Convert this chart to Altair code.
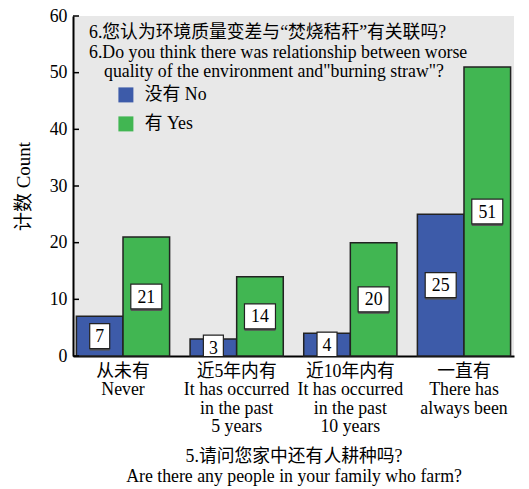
import altair as alt
import pandas as pd

categories = [
    "从未有|Never",
    "近5年内有|It has occurred|in the past|5 years",
    "近10年内有|It has occurred|in the past|10 years",
    "一直有|There has|always been",
]
series = ["没有 No", "有 Yes"]
no_counts = [7, 3, 4, 25]
yes_counts = [21, 14, 20, 51]
y_ticks = [0, 10, 20, 30, 40, 50, 60]
title_lines = [
    "6.您认为环境质量变差与“焚烧秸秆”有关联吗?",
    "6.Do you think there was relationship between worse",
    "quality of the environment and\"burning straw\"?",
]
x_title = ["5.请问您家中还有人耕种吗?", "Are there any people in your family who farm?"]
y_title = "计数 Count"

rows = []
for c, n, y in zip(categories, no_counts, yes_counts):
    rows.append({"category": c, "series": series[0], "count": n})
    rows.append({"category": c, "series": series[1], "count": y})
df = pd.DataFrame(rows)

FONT = "Liberation Serif, Noto Sans CJK SC"
FS = 17.8
BLUE = "#3d5ba9"
GREEN = "#41b652"

x_enc = alt.X(
    "category:N",
    sort=categories,
    scale=alt.Scale(paddingInner=0.18, paddingOuter=0.03),
    axis=alt.Axis(
        labelExpr="split(datum.label, '|')",
        labelAngle=0,
        labelFontSize=FS,
        labelLineHeight=18.5,
        labelPadding=6,
        labelBaseline="top",
        ticks=False,
        domainColor="black",
        domainWidth=2,
        titleFontSize=FS,
        titleFontWeight="normal",
        titlePadding=12,
        titleLineHeight=20,
        labelColor="black",
        titleColor="black",
        labelFont=FONT,
        titleFont=FONT,
    ),
    title=x_title,
)
x_off = alt.XOffset("series:N", sort=series, scale=alt.Scale(paddingInner=0, paddingOuter=0))
y_scale = alt.Scale(domain=[0, 60], nice=False, zero=True)
y_axis = alt.Axis(
    values=y_ticks,
    ticks=False,
    grid=False,
    domainColor="black",
    domainWidth=2,
    labelFontSize=FS,
    labelPadding=6,
    labelColor="black",
    labelFont=FONT,
    titleFontSize=19,
    titleFontWeight="normal",
    titlePadding=16,
    titleColor="black",
    titleFont=FONT,
)

base = alt.Chart(df)

bars = base.mark_bar(stroke="#222222", strokeWidth=1.5).encode(
    x=x_enc,
    xOffset=x_off,
    y=alt.Y("count:Q", scale=y_scale, axis=y_axis, title=y_title),
    color=alt.Color(
        "series:N",
        sort=series,
        scale=alt.Scale(domain=series, range=[BLUE, GREEN]),
        legend=alt.Legend(
            orient="none",
            legendX=44,
            legendY=70,
            title=None,
            symbolType="square",
            symbolSize=225,
            symbolStrokeWidth=0,
            labelFontSize=FS,
            labelFont=FONT,
            labelColor="black",
            labelOffset=10,
            rowPadding=10,
            padding=0,
        ),
    ),
)

boxed = base.transform_calculate(
    mid="datum.count / 2",
    lo="datum.count / 2 - 2.2",
    hi="datum.count / 2 + 2.2",
    digits="length(toString(datum.count))",
)


def box_layers(ndigits, w):
    sub = boxed.transform_filter(f"datum.digits == {ndigits}")
    enc = dict(
        x=x_enc,
        xOffset=x_off,
        y=alt.Y("lo:Q", scale=y_scale, axis=y_axis, title=y_title),
        y2="hi:Q",
    )
    shadow = sub.mark_rect(width=w, color="#555555", xOffset=2, yOffset=2, clip=True).encode(**enc)
    box = sub.mark_rect(width=w, fill="white", stroke="#222222", strokeWidth=1.2, clip=True).encode(**enc)
    return [shadow, box]


texts = boxed.mark_text(fontSize=FS, font=FONT, color="black", baseline="middle", dy=1).encode(
    x=x_enc,
    xOffset=x_off,
    y=alt.Y("mid:Q", scale=y_scale, axis=y_axis, title=y_title),
    text="count:Q",
)

ticks = alt.Chart(pd.DataFrame({"tick": y_ticks})).mark_rule(color="black", strokeWidth=1.5).encode(
    y=alt.Y("tick:Q", scale=y_scale, axis=y_axis, title=y_title),
    x=alt.value(0),
    x2=alt.value(6),
)

title_pos = [(16, 17), (16, 37), (31, 56)]
title_layers = []
for line, (tx, ty) in zip(title_lines, title_pos):
    title_layers.append(
        alt.Chart(alt.Data(values=[{"t": line}]))
        .mark_text(fontSize=FS, font=FONT, color="black", align="left", baseline="middle")
        .encode(x=alt.value(tx), y=alt.value(ty), text="t:N")
    )

chart = alt.layer(
    bars,
    *box_layers(1, 20),
    *box_layers(2, 31),
    texts,
    ticks,
    *title_layers,
).properties(
    width=441,
    height=340,
    autosize="none",
    padding={"left": 73, "top": 16, "right": 15, "bottom": 133},
    background="white",
).configure_view(fill="#e8e8e8", stroke=None)

chart.save("out.html", embed_options={"renderer": "svg", "actions": False})
